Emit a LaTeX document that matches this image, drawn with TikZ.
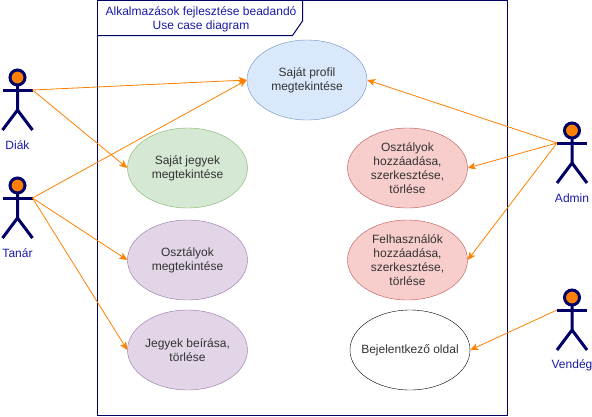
\documentclass[tikz,border=0pt]{standalone}
\usepackage{fontspec}
\setmainfont{Liberation Sans}
\usetikzlibrary{shapes.geometric, arrows.meta}
\definecolor{navy}{HTML}{000066}
\definecolor{titleblue}{HTML}{1A1AA6}
\definecolor{linkorange}{HTML}{FF8000}
\definecolor{txtgray}{HTML}{333333}
\tikzset{every node/.style={font=\fontsize{12}{14}\selectfont}}
\tikzstyle{usecase} = [ellipse, minimum width=120pt, minimum height=80pt, inner sep=0pt, align=center, text=txtgray, draw=black]
\tikzstyle{bluecase} = [usecase, draw={rgb,255:red,108;green,142;blue,191}, fill={rgb,255:red,218;green,232;blue,252}]
\tikzstyle{greencase} = [usecase, draw={rgb,255:red,130;green,179;blue,102}, fill={rgb,255:red,213;green,232;blue,212}]
\tikzstyle{purplecase} = [usecase, draw={rgb,255:red,150;green,115;blue,166}, fill={rgb,255:red,225;green,213;blue,231}]
\tikzstyle{redcase} = [usecase, draw={rgb,255:red,184;green,84;blue,80}, fill={rgb,255:red,248;green,206;blue,204}]
\tikzstyle{arrow} = [linkorange, line width=0.8pt, -{Stealth[length=8pt, width=7pt, inset=2pt]}]
\tikzset{actor/.pic={
  \draw [navy, line width=3pt, fill=linkorange] (0,-12.5) circle (7.5);
  \draw [navy, line width=3pt] (0,-5) -- (0,20) -- (-15,40);
  \draw [navy, line width=3pt] (0,20) -- (15,40);
  \draw [navy, line width=3pt] (-15,0) -- (15,0);
  \coordinate (-left) at (-15,0);
  \coordinate (-right) at (15,0);
  \node (-name) [text=titleblue] at (0,55) {#1};
}}
\begin{document}
\begin{tikzpicture}[x=1pt, y=-1pt, node distance=92pt]
\useasboundingbox (0,0) rectangle (592,416);

% frame
\node (frame) [rectangle, draw=navy, line width=1pt, minimum width=410pt, minimum height=414.5pt, inner sep=0pt] at (302.5,207.75) {};
\draw [navy, line width=1pt] (97.5,35.5) -- (292.5,35.5) -- (302.5,21) -- (302.5,0.5);
\node (title) [text=titleblue, align=center] at (201,19.5) {Alkalmazások fejlesztése beadandó\\Use case diagram};

% use cases
\node (profil) [bluecase] at (307,80) {Saját profil\\megtekintése};
\node (jegyek) [greencase] at (187.5,168) {Saját jegyek\\megtekintése};
\node (osztview) [purplecase, below of=jegyek] {Osztályok\\megtekintése};
\node (beiras) [purplecase, below of=osztview, yshift=2pt] {Jegyek beírása,\\törlése};
\node (osztadd) [redcase] at (407.5,168) {Osztályok\\hozzáadása,\\szerkesztése,\\törlése};
\node (felhadd) [redcase, below of=osztadd] {Felhasználók\\hozzáadása,\\szerkesztése,\\törlése};
\node (login) [usecase, below of=felhadd, xshift=2.5pt, yshift=2pt, inner xsep=-15pt] {Bejelentkező oldal};

% actors
\pic (diak) at (17.5,90) {actor={Diák}};
\pic (tanar) at (17.5,198) {actor={Tanár}};
\pic (admin) at (572,143) {actor={Admin}};
\pic (vendeg) at (572,310) {actor={Vendég}};

% links
\draw [arrow] (diak-right) -- (profil.west);
\draw [arrow] (diak-right) -- (jegyek.west);
\draw [arrow] (tanar-right) -- (profil.west);
\draw [arrow] (tanar-right) -- (osztview.west);
\draw [arrow] (tanar-right) -- (beiras.west);
\draw [arrow] (admin-left) -- (profil.east);
\draw [arrow] (admin-left) -- (osztadd.east);
\draw [arrow] (admin-left) -- (felhadd.east);
\draw [arrow] (vendeg-left) -- (login.east);

\end{tikzpicture}
\end{document}
